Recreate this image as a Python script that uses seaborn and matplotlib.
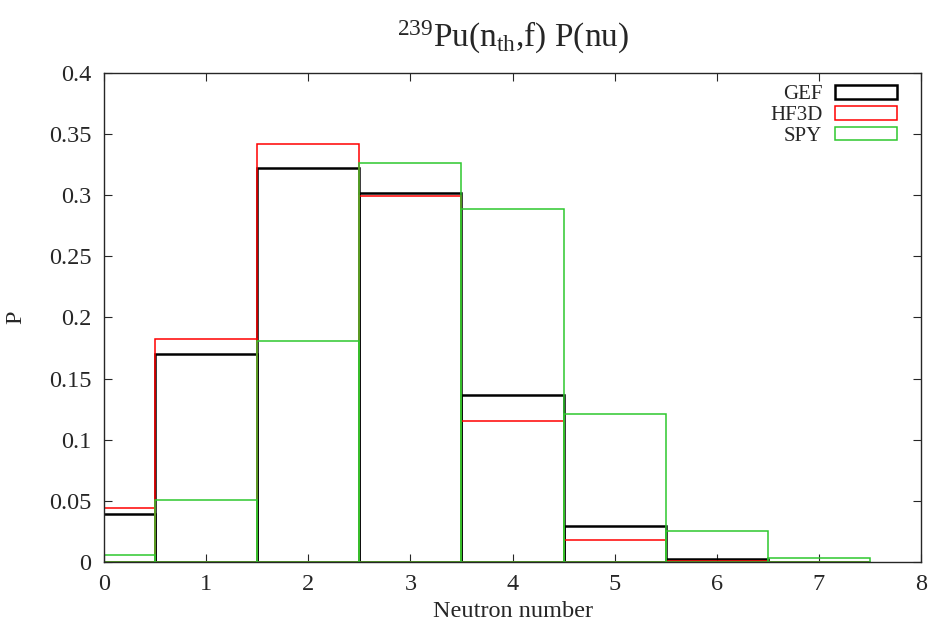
import numpy as np
import seaborn as sns
import matplotlib
matplotlib.use("Agg")
import matplotlib.pyplot as plt
import matplotlib.patches as mpatches
from matplotlib.ticker import FuncFormatter

# Neutron multiplicity distributions
nu = [0, 1, 2, 3, 4, 5, 6, 7]
p_gef = [0.0393, 0.1705, 0.322, 0.302, 0.1366, 0.0294, 0.0025, 0.0003]
p_hf3d = [0.0442, 0.1824, 0.342, 0.2994, 0.1153, 0.018, 0.0012, 0.0001]
p_spy = [0.0057, 0.0507, 0.1808, 0.3264, 0.2888, 0.121, 0.0254, 0.0033]

series = [
    ("GEF", p_gef, "black", 1.8),
    ("HF3D", p_hf3d, "#ff0000", 1.1),
    ("SPY", p_spy, "#2ec82e", 1.1),
]

sns.set_style("ticks")
plt.rcParams["font.family"] = ["Liberation Serif", "DejaVu Serif"]
plt.rcParams["mathtext.fontset"] = "custom"
plt.rcParams["mathtext.rm"] = "Liberation Serif"
plt.rcParams["mathtext.it"] = "Liberation Serif:italic"

fig = plt.figure(figsize=(9.29, 6.27), dpi=100)
ax = fig.add_axes([0.112, 0.1037, 0.8794, 0.78])

handles = []
for name, vals, col, lw in series:
    sns.histplot(x=nu, weights=vals, discrete=True, fill=False,
                 color=col, linewidth=lw, ax=ax)
    # histplot colours edges a bit lighter; force the exact colour
    for patch in ax.patches[-len(nu):]:
        patch.set_edgecolor(col)
    handles.append(mpatches.Patch(facecolor="none", edgecolor=col,
                                  linewidth=lw, label=name))

ax.set_xlim(0, 8)
ax.set_ylim(0, 0.4)
ax.set_xticks(range(0, 9))
ax.set_yticks(np.arange(0, 0.401, 0.05))
ax.yaxis.set_major_formatter(FuncFormatter(lambda v, _: "%g" % round(v, 3)))
ax.tick_params(direction="in", top=True, right=True, labelsize=17.5,
               length=6, width=0.8)
ax.tick_params(axis="y", pad=9)
ax.tick_params(axis="x", pad=9)
for s in ax.spines.values():
    s.set_linewidth(1.0)

ax.set_xlabel("Neutron number", fontsize=17.5, labelpad=4)
ax.set_ylabel("P", fontsize=17.5, labelpad=16)
ax.set_title(r"$^{239}$Pu(n$_{\rm th}$,f) P(nu)", fontsize=24, pad=19)

ax.legend(handles=handles, loc="upper right", bbox_to_anchor=(0.971, 0.976),
          frameon=False, markerfirst=False, fontsize=15, handlelength=3.0,
          handleheight=0.65, labelspacing=0.08, handletextpad=0.6,
          borderaxespad=0.0, borderpad=0.0)

fig.savefig("out.png", dpi=100)
